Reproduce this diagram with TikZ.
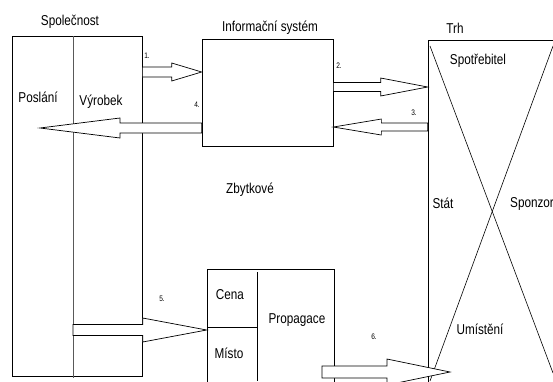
\documentclass[tikz,border=0pt]{standalone}
\usepackage{fontspec}
\setmainfont[FakeStretch=0.82]{Liberation Sans}
\usetikzlibrary{calc,fit}
\tikzset{
  box/.style={draw,line width=0.7pt,inner sep=0pt},
  barrow/.style={draw,line width=0.7pt,fill=white},
  lbl/.style={font=\fontsize{14.3}{15}\selectfont,inner sep=0pt},
  num/.style={font=\fontsize{8}{9}\selectfont,inner sep=0pt},
}
\newcommand\barrow[5]{%
  \coordinate (hb) at ($(#2)!#5!(#1)$);
  \draw[barrow] ($(#1)+(0,#3)$) -- ($(hb)+(0,#3)$) -- ($(hb)+(0,#4)$) -- (#2)
    -- ($(hb)+(0,-#4)$) -- ($(hb)+(0,-#3)$) -- ($(#1)+(0,-#3)$) -- cycle;}
\begin{document}
\begin{tikzpicture}[x=1pt,y=-1pt]
\useasboundingbox (0,0) rectangle (553,381);
\clip (0,0) rectangle (553,381);
\node[box,fit={(12,36) (142,376)}] (spol) {};
\node[box,fit={(202,39) (333,146)}] (info) {};
\node[box,fit={(428,40) (600,420)}] (trh) {};
\node[box,fit={(207,269) (334,420)}] (mix) {};
\draw[line width=0.7pt,gray!70!black] (73,36) -- (73,378);
\draw[line width=0.7pt] (207,327) -- (257,327);
\draw[line width=0.7pt] (257,272) -- (257,381);
\draw[line width=0.6pt] (430,46) -- (553,373);
\draw[line width=0.6pt] (553,46) -- (430,381);
\node[lbl] (tspol) at (70,22) {Společnost};
\node[lbl] (tinfo) at (270,28) {Informační systém};
\node[lbl] (ttrh) at (455,28) {Trh};
\node[lbl] (tposl) at (38,97) {Poslání};
\node[lbl] (tvyr) at (101,102) {Výrobek};
\node[lbl] (tzbyt) at (250,190) {Zbytkové};
\node[lbl] (tspot) at (478,61) {Spotřebitel};
\node[lbl] (tstat) at (443,203) {Stát};
\node[lbl,anchor=west] (tspon) at (510,204) {Sponzor};
\node[lbl] (tumi) at (480,329) {Umístění};
\node[lbl] (tcena) at (230,295) {Cena};
\node[lbl] (tmisto) at (229,353) {Místo};
\node[lbl] (tprop) at (297,320) {Propagace};
\node[num] (n1) at (147,56) {1.};
\node[num] (n2) at (339,66) {2.};
\node[num] (n3) at (414,113) {3.};
\node[num] (n4) at (197,105) {4.};
\node[num] (n5) at (162,299) {5.};
\node[num] (n6) at (374,337) {6.};
\coordinate (a1s) at (spol.east |- 0,72);
\coordinate (a1e) at (info.west |- 0,72);
\coordinate (a2s) at (info.east |- 0,87);
\coordinate (a2e) at (trh.west |- 0,87);
\coordinate (a3s) at (trh.west |- 0,127);
\coordinate (a3e) at (info.east |- 0,127);
\coordinate (a4s) at (info.west |- 0,128);
\coordinate (a4e) at (40,128);
\coordinate (a5s) at (73,330);
\coordinate (a5e) at (mix.west |- 0,330);
\coordinate (a6s) at (322,372);
\coordinate (a6e) at (450,372);
\barrow{a1s}{a1e}{5}{9}{30pt}
\barrow{a2s}{a2e}{4.5}{9}{47pt}
\barrow{a3s}{a3e}{4}{8}{48pt}
\barrow{a4s}{a4e}{5}{10}{80pt}
\barrow{a5s}{a5e}{5.5}{12}{64pt}
\barrow{a6s}{a6e}{6}{13}{63pt}
\end{tikzpicture}
\end{document}
